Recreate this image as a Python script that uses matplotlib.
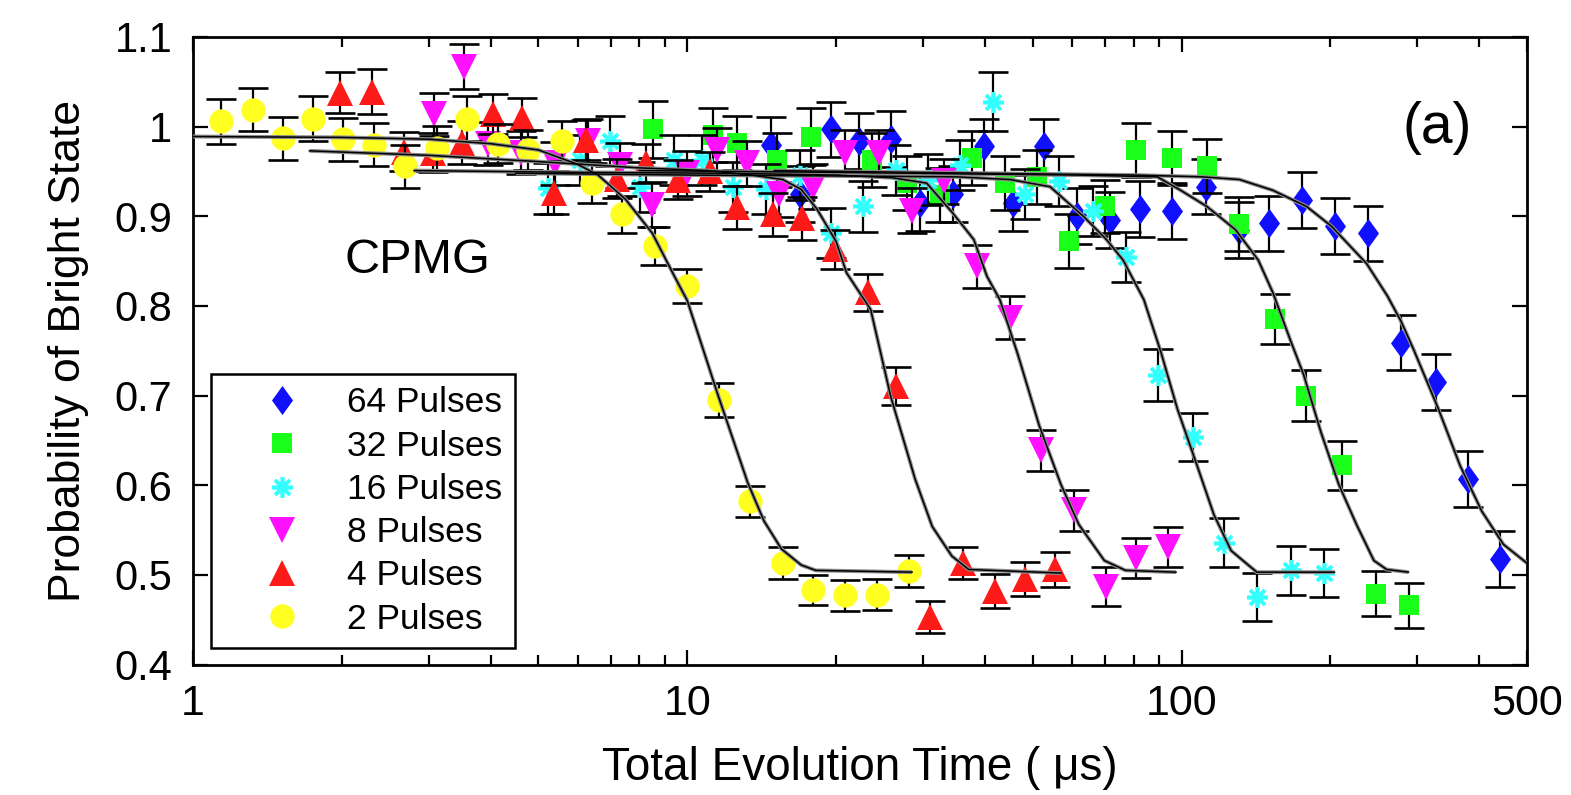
import matplotlib
matplotlib.use('Agg')
import matplotlib.pyplot as plt
from matplotlib.lines import Line2D
from matplotlib.path import Path
from matplotlib import font_manager

# ---- data ----
labels = ['64 Pulses', '32 Pulses', '16 Pulses', '8 Pulses', '4 Pulses', '2 Pulses']

t2 = [1.14, 1.32, 1.52, 1.75, 2.01, 2.32, 2.69, 3.11, 3.58, 4.15, 4.77, 5.58, 6.42,
      7.39, 8.6, 10.0, 11.6, 13.4, 15.6, 18.0, 20.9, 24.2, 28.1]
p2 = [1.006, 1.019, 0.987, 1.009, 0.986, 0.980, 0.956, 0.976, 1.009, 0.981, 0.974, 0.984, 0.937,
      0.902, 0.867, 0.822, 0.695, 0.582, 0.513, 0.483, 0.477, 0.478, 0.504]
e2 = [0.025, 0.024, 0.024, 0.025, 0.024, 0.024, 0.024, 0.025, 0.025, 0.022, 0.022, 0.022, 0.022,
      0.021, 0.021, 0.019, 0.019, 0.017, 0.018, 0.017, 0.017, 0.017, 0.018]

t4 = [1.98, 2.30, 2.67, 3.06, 3.5, 4.04, 4.64, 5.37, 6.23, 7.2, 8.26, 9.6, 11.1, 12.6,
      14.9, 17.1, 19.9, 23.2, 26.5, 31.0, 36.1, 42.0, 48.2, 55.5]
p4 = [1.038, 1.039, 0.972, 0.971, 0.982, 1.014, 1.010, 0.926, 0.985, 0.942, 0.959, 0.941, 0.950, 0.910,
      0.902, 0.898, 0.863, 0.815, 0.711, 0.453, 0.513, 0.482, 0.495, 0.506]
e4 = [0.023, 0.025, 0.022, 0.022, 0.024, 0.022, 0.022, 0.024, 0.022, 0.022, 0.022, 0.022, 0.022, 0.024,
      0.024, 0.024, 0.022, 0.021, 0.021, 0.018, 0.018, 0.019, 0.019, 0.019]

t8 = [3.07, 3.53, 3.95, 4.6, 5.41, 6.3, 7.3, 8.47, 9.99, 11.5, 13.2, 15.3, 18.0, 20.9,
      24.4, 28.5, 33.0, 38.5, 45.0, 52.0, 60.5, 70.5, 81, 94]
p8 = [1.014, 1.067, 0.981, 0.971, 0.959, 0.984, 0.957, 0.913, 0.948, 0.974, 0.959, 0.925, 0.933, 0.971,
      0.971, 0.906, 0.939, 0.844, 0.787, 0.639, 0.572, 0.487, 0.519, 0.531]
e8 = [0.024, 0.025, 0.024, 0.024, 0.024, 0.025, 0.025, 0.025, 0.025, 0.025, 0.025, 0.026, 0.025, 0.025,
      0.025, 0.025, 0.025, 0.024, 0.024, 0.023, 0.023, 0.022, 0.022, 0.022]

t16 = [5.23, 6.07, 6.97, 8.03, 9.38, 10.7, 12.4, 14.4, 16.9, 19.5, 22.7, 26.5, 30.7, 35.6,
       41.5, 48.3, 56.4, 66.2, 77.3, 89.5, 105.5, 122, 142, 166.6, 193.9]
p16 = [0.931, 0.963, 0.984, 0.933, 0.963, 0.963, 0.933, 0.930, 0.946, 0.881, 0.911, 0.952, 0.941, 0.957,
       1.028, 0.925, 0.939, 0.906, 0.855, 0.723, 0.654, 0.536, 0.475, 0.505, 0.502]
e16 = [0.028, 0.028, 0.028, 0.028, 0.028, 0.028, 0.028, 0.028, 0.028, 0.028, 0.028, 0.028, 0.028, 0.028,
       0.033, 0.028, 0.028, 0.028, 0.028, 0.029, 0.027, 0.027, 0.027, 0.027, 0.027]

t32 = [8.54, 11.3, 12.6, 15.2, 17.8, 23.6, 27.8, 32.4, 37.6, 44, 51.1, 59.3, 70, 81,
       95.5, 112.5, 130.5, 154.6, 178.8, 211, 248, 288]
p32 = [0.997, 0.991, 0.982, 0.963, 0.989, 0.963, 0.937, 0.924, 0.965, 0.937, 0.944, 0.872, 0.911, 0.974,
       0.965, 0.956, 0.891, 0.785, 0.700, 0.622, 0.479, 0.466]
e32 = [0.032, 0.030, 0.030, 0.030, 0.032, 0.030, 0.030, 0.030, 0.030, 0.030, 0.030, 0.030, 0.030, 0.030,
       0.030, 0.030, 0.030, 0.028, 0.028, 0.027, 0.025, 0.025]

t64 = [14.8, 16.9, 19.5, 22.3, 25.8, 29.6, 34.5, 39.8, 45.7, 52.8, 61.5, 71.6, 82.5, 95.6,
       112, 130.5, 150.3, 175, 204, 238, 278.6, 326.5, 379, 440]
p64 = [0.980, 0.925, 0.997, 0.984, 0.986, 0.915, 0.925, 0.978, 0.915, 0.978, 0.900, 0.896, 0.908, 0.906,
       0.933, 0.885, 0.892, 0.918, 0.889, 0.881, 0.759, 0.715, 0.607, 0.518]
e64 = [0.031] * 24

# fit curves
ft2 = [1, 2, 3, 4, 5, 6, 6.6, 7.5, 8.5, 9.4, 10, 11.5, 13.25, 14.3, 15.5, 17, 18.2, 28.5]
fp2 = [0.989, 0.988, 0.986, 0.981, 0.974, 0.958, 0.946, 0.919, 0.881, 0.834, 0.806, 0.703, 0.603,
       0.56, 0.529, 0.511, 0.505, 0.503]
ft4 = [1.72, 3, 5, 8, 11, 13.5, 15.6, 17, 18.3, 20, 21, 23.5, 25.8, 28.9, 31.3, 34.3, 37.1, 57]
fp4 = [0.973, 0.968, 0.961, 0.954, 0.951, 0.946, 0.941, 0.93, 0.908, 0.872, 0.837, 0.796, 0.699,
       0.607, 0.554, 0.521, 0.506, 0.502]
ft8 = [2.8, 6, 12, 20, 26, 30.5, 34.4, 38, 40.4, 42.9, 46.7, 51.5, 57, 62, 69.8, 77, 97.5]
fp8 = [0.951, 0.949, 0.948, 0.946, 0.943, 0.937, 0.904, 0.874, 0.833, 0.807, 0.745, 0.667, 0.601,
       0.556, 0.516, 0.505, 0.503]
ft16 = [4.5, 10, 20, 35, 45, 54.2, 63.3, 70.5, 76.2, 83.9, 90.9, 98.1, 107.5, 116.3, 126, 142, 204]
fp16 = [0.948, 0.946, 0.945, 0.944, 0.941, 0.933, 0.900, 0.874, 0.851, 0.807, 0.748, 0.685, 0.622,
        0.567, 0.527, 0.503, 0.503]
ft32 = [8, 20, 40, 61.5, 89.3, 99.6, 112.5, 128.6, 143, 153, 166, 176.7, 191.5, 208, 226, 245, 260, 288]
fp32 = [0.951, 0.949, 0.947, 0.946, 0.944, 0.929, 0.911, 0.885, 0.851, 0.815, 0.762, 0.723, 0.659,
        0.601, 0.556, 0.516, 0.506, 0.503]
ft64 = [15, 40, 80, 110, 131, 153, 179, 201, 237, 261, 278, 295, 331, 366, 405, 448, 500]
fp64 = [0.951, 0.948, 0.946, 0.944, 0.941, 0.929, 0.911, 0.889, 0.847, 0.811, 0.783, 0.751, 0.685,
        0.622, 0.571, 0.534, 0.513]

xticks = [1, 10, 100, 500]
yticks = [0.4, 0.5, 0.6, 0.7, 0.8, 0.9, 1.0, 1.1]
ytick_labels = ['0.4', '0.5', '0.6', '0.7', '0.8', '0.9', '1', '1.1']

# ---- style ----
names = {f.name for f in font_manager.fontManager.ttflist}
narrow = 'Liberation Sans Narrow' if 'Liberation Sans Narrow' in names else 'Liberation Sans'
plt.rcParams['font.family'] = ['Liberation Sans', 'DejaVu Sans']

diamond = Path([(0, 1), (0.72, 0), (0, -1), (-0.72, 0), (0, 1)],
               [Path.MOVETO, Path.LINETO, Path.LINETO, Path.LINETO, Path.CLOSEPOLY])
styles = [
    dict(marker=diamond, color='#1010ff', ms=21, mew=0),
    dict(marker='s', color='#1aff1a', ms=14, mew=0),
    dict(marker=(8, 2, 0), color='#33ffff', ms=15, mew=2.6),
    dict(marker='v', color='#ff10ff', ms=19, mew=0),
    dict(marker='^', color='#ff1a1a', ms=19, mew=0),
    dict(marker='o', color='#ffff22', ms=17.5, mew=0),
]
series = [(t64, p64, e64), (t32, p32, e32), (t16, p16, e16),
          (t8, p8, e8), (t4, p4, e4), (t2, p2, e2)]
fits = [(ft64, fp64), (ft32, fp32), (ft16, fp16), (ft8, fp8), (ft4, fp4), (ft2, fp2)]

fig = plt.figure(figsize=(15.71, 7.95), dpi=100)
ax = fig.add_axes([193 / 1571, 1 - 664.5 / 795, (1527 - 193) / 1571, (664.5 - 37) / 795])

for i, ((t, p, e), st) in enumerate(zip(series, styles)):
    ax.errorbar(t, p, yerr=e, fmt='none', ecolor='k', elinewidth=1.6,
                capsize=11, capthick=1.9, zorder=2 + 2 * i)
    ax.plot(t, p, ls='none', marker=st['marker'], color=st['color'], ms=st['ms'],
            mew=st['mew'], mec=st['color'], zorder=3 + 2 * i)

for ft, fp in fits:
    ax.plot(ft, fp, color='0.55', lw=2.8, zorder=30, solid_capstyle='butt')
    ax.plot(ft, fp, color='k', lw=1.1, zorder=31)

ax.set_xscale('log')
ax.set_xlim(1, 500)
ax.set_ylim(0.4, 1.1)
ax.set_xticks(xticks)
ax.set_xticklabels([str(v) for v in xticks], fontfamily=narrow, fontsize=31)
ax.set_yticks(yticks)
ax.set_yticklabels(ytick_labels, fontsize=30)
ax.tick_params(axis='both', which='major', direction='in', length=11, width=1.6,
               top=True, right=True)
ax.tick_params(axis='x', which='major', pad=14)
ax.tick_params(axis='y', which='major', pad=15)
ax.tick_params(axis='x', which='minor', direction='in', length=7, width=1.6, top=True)
for s in ax.spines.values():
    s.set_linewidth(2.0)

ax.set_xlabel('Total Evolution Time ( \u03bcs)', fontsize=33, labelpad=16)
ax.set_ylabel('Probability of Bright State', fontsize=32, labelpad=18)

ax.text(2.84, 0.851, 'CPMG', fontsize=35, ha='center', va='center')
ax.text(0.933, 0.855, '(a)', fontsize=41, ha='center', va='center', transform=ax.transAxes)

handles = [Line2D([], [], ls='none', marker=st['marker'], color=st['color'], ms=st['ms'],
                  mew=st['mew'], mec=st['color']) for st in styles]
leg = ax.legend(handles, labels, loc='upper left', bbox_to_anchor=(211 / 1571, 1 - 374 / 795),
                bbox_transform=fig.transFigure, borderaxespad=0, fontsize=25.5,
                frameon=True, fancybox=False, framealpha=1, edgecolor='k',
                handlelength=3.3, handletextpad=0.2, labelspacing=0.29, borderpad=0.35)
leg.get_frame().set_linewidth(1.8)
leg.set_zorder(40)

fig.savefig('out.png', dpi=100)
